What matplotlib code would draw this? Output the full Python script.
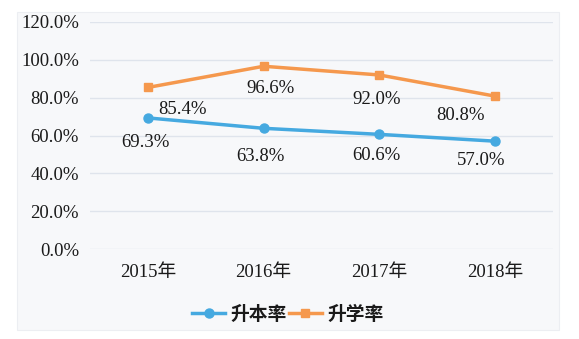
import matplotlib
matplotlib.use('Agg')
import matplotlib.pyplot as plt
from matplotlib.patches import Rectangle
import numpy as np

plt.rcParams['font.family'] = ['Liberation Serif', 'Noto Sans CJK SC']

# Data
years = ['2015年', '2016年', '2017年', '2018年']
upgrade_rate = [69.3, 63.8, 60.6, 57.0]      # 升本率
enroll_rate = [85.4, 96.6, 92.0, 80.8]       # 升学率
yticks = [0, 20, 40, 60, 80, 100, 120]

# label offsets in points (dx, dy)
blue_off = [(-2, -18), (-2, -20), (-2, -15), (-10, -14)]
orange_off = [(25, -16), (5, -16), (-2, -18), (-25, -14)]

blue = '#45a9e0'
orange = '#f5984d'
fs = 13.5

fig = plt.figure(figsize=(5.79, 3.39), dpi=100)
fig.patch.set_facecolor('white')
W, H = 579, 339
fig.patches.append(Rectangle((17 / W, 1 - 330 / H), (559 - 17) / W, (330 - 12) / H,
                             transform=fig.transFigure, facecolor='#f7f8fa',
                             edgecolor='#eceef2', lw=0.8, zorder=-5))

ax = fig.add_axes([90 / W, 1 - 249 / H, (553 - 90) / W, (249 - 22) / H])
ax.set_facecolor('none')
x = np.arange(len(years))

ax.plot(x, upgrade_rate, '-o', color=blue, lw=2.5, ms=6.5, label='升本率', zorder=3)
ax.plot(x, enroll_rate, '-s', color=orange, lw=2.5, ms=6, label='升学率', zorder=3)

for xi, v, off in zip(x, upgrade_rate, blue_off):
    ax.annotate(f'{v:.1f}%', (xi, v), xytext=off, textcoords='offset points',
                ha='center', va='center', fontsize=fs, color='#1a1a1a')
for xi, v, off in zip(x, enroll_rate, orange_off):
    ax.annotate(f'{v:.1f}%', (xi, v), xytext=off, textcoords='offset points',
                ha='center', va='center', fontsize=fs, color='#1a1a1a')

ax.set_xlim(-0.5, 3.5)
ax.set_ylim(0, 120)
ax.set_yticks(yticks)
ax.set_yticklabels([f'{t:.1f}%' for t in yticks], fontsize=fs, color='#1a1a1a')
ax.set_xticks(x)
ax.set_xticklabels(years, fontsize=fs, color='#1a1a1a')
ax.tick_params(length=0, pad=8)
ax.tick_params(axis='x', pad=11)
ax.grid(axis='y', color='#dfe4ec', lw=1)
for s in ax.spines.values():
    s.set_visible(False)

leg = fig.legend(loc='center', bbox_to_anchor=(288 / W, 1 - 314 / H), ncol=2,
                 frameon=False, handlelength=1.75, columnspacing=0.1, handletextpad=0.3,
                 prop={'family': 'Noto Sans CJK SC', 'size': 13.5, 'weight': 'bold'})
for t in leg.get_texts():
    t.set_color('#1a1a1a')

fig.savefig('out.png', dpi=100)
